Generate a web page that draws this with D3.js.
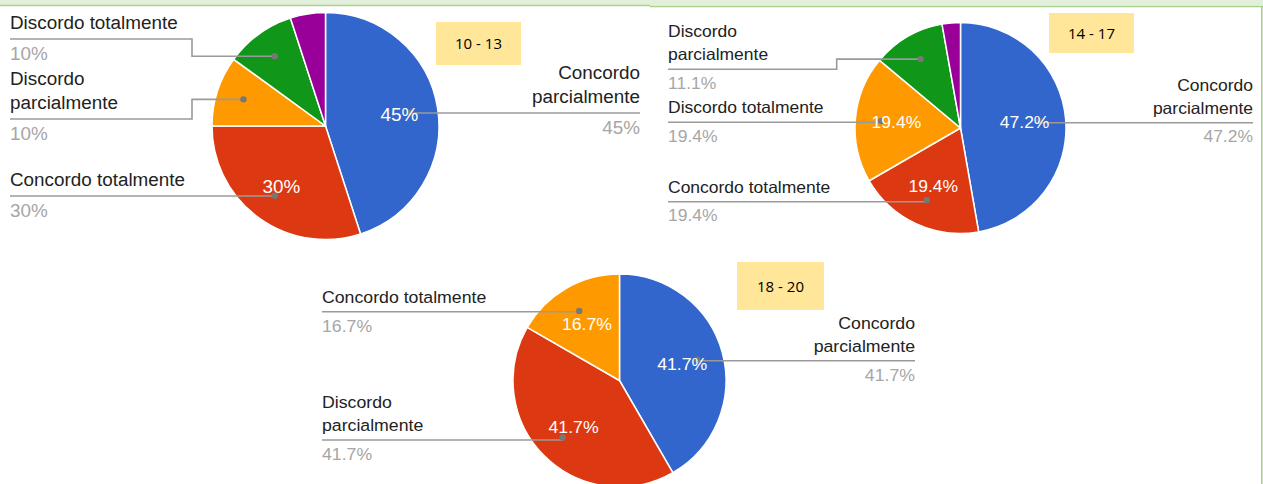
<!DOCTYPE html>
<html>
<head>
<meta charset="utf-8">
<script src="https://cdn.jsdelivr.net/npm/d3@7"></script>
<style>
  html, body { margin: 0; padding: 0; background: #ffffff; }
  svg { display: block; }
</style>
</head>
<body>
<svg id="chart" width="1263" height="484"></svg>
<script>
// ---- data -------------------------------------------------------------
const groups = ["10 - 13", "14 - 17", "18 - 20"];

const categories1 = ["Concordo parcialmente", "Concordo totalmente", "Discordo parcialmente", "Discordo totalmente", "Não concordo nem discordo"];
const values1 = [45, 30, 10, 10, 5];

const categories2 = ["Concordo parcialmente", "Concordo totalmente", "Discordo totalmente", "Discordo parcialmente", "Não concordo nem discordo"];
const values2 = [47.2, 19.4, 19.4, 11.1, 2.8];

const categories3 = ["Concordo parcialmente", "Discordo parcialmente", "Concordo totalmente"];
const values3 = [41.7, 41.7, 16.7];

const sliceColors = ["#3366cc", "#dc3912", "#ff9900", "#109618", "#990099"];

// ---- layout -------------------------------------------------------------
const layouts = [
  { cx: 325.5, cy: 126, r: 113.5, fs: 17.8, sx: 1.06, leftX: 10, rightX: 640,
    nameDy: -10, lineGap: 24, pctDy: 21, innerK: 0.66, dotK: 0.76,
    box: { x: 436, y: 22, w: 85, h: 43 },
    leaders: { "Concordo parcialmente": { side: "right", y: 113 },
               "Concordo totalmente":   { side: "left",  y: 196 },
               "Discordo parcialmente": { side: "left",  y: 119, step: 192 },
               "Discordo totalmente":   { side: "left",  y: 39,  step: 192 } } },
  { cx: 960.5, cy: 128, r: 105.5, fs: 16.5, sx: 1.06, leftX: 668, rightX: 1253,
    nameDy: -9, lineGap: 23, pctDy: 19.5, innerK: 0.61, dotK: 0.755,
    box: { x: 1049, y: 13, w: 85, h: 40 },
    leaders: { "Concordo parcialmente": { side: "right", y: 122.7 },
               "Concordo totalmente":   { side: "left",  y: 201.7 },
               "Discordo totalmente":   { side: "left",  y: 122.3 },
               "Discordo parcialmente": { side: "left",  y: 69.3, step: 836.7 } } },
  { cx: 619.5, cy: 380.5, r: 106.5, fs: 17.2, sx: 1.03, leftX: 322, rightX: 915,
    nameDy: -9, lineGap: 23, pctDy: 20, innerK: 0.61, dotK: 0.755,
    box: { x: 737, y: 262, w: 87, h: 48 },
    leaders: { "Concordo parcialmente": { side: "right", y: 360.7 },
               "Discordo parcialmente": { side: "left",  y: 440 },
               "Concordo totalmente":   { side: "left",  y: 311.7 } } }
];

const pies = [
  { cats: categories1, vals: values1 },
  { cats: categories2, vals: values2 },
  { cats: categories3, vals: values3 }
];

const svg = d3.select("#chart");
const fontFamily = "'Liberation Sans', Arial, sans-serif";
const fmtPct = v => (Number.isInteger(v) ? v : v.toFixed(1)) + "%";

// sheet frame: pale green strip with a thin green rule, and the right edge
svg.append("rect").attr("x", 0).attr("y", 0).attr("width", 1263).attr("height", 5.5).attr("fill", "#e2efda");
svg.append("line").attr("x1", 0).attr("x2", 650).attr("y1", 5.5).attr("y2", 5.5)
  .attr("stroke", "#a9d18e").attr("stroke-width", 1.6);
svg.append("line").attr("x1", 650).attr("x2", 1263).attr("y1", 6.5).attr("y2", 6.5)
  .attr("stroke", "#a9d18e").attr("stroke-width", 1.6);
svg.append("line").attr("x1", 1261.8).attr("x2", 1261.8).attr("y1", 6).attr("y2", 484)
  .attr("stroke", "#a9d18e").attr("stroke-width", 1.6);

function scaledText(g, x, y, sx, str, opts) {
  return g.append("text")
    .attr("transform", `translate(${x},${y}) scale(${sx},1)`)
    .attr("text-anchor", opts.anchor || "start")
    .attr("font-family", fontFamily)
    .attr("font-size", opts.fs)
    .attr("fill", opts.fill)
    .text(str);
}

pies.forEach((p, i) => {
  const L = layouts[i];
  const g = svg.append("g");
  const color = d3.scaleOrdinal().domain(p.cats).range(sliceColors);
  const data = p.cats.map((c, k) => ({ name: c, value: p.vals[k] }));

  const pie = d3.pie().value(d => d.value).sort(null);
  const arcs = pie(data);
  const arc = d3.arc().innerRadius(0).outerRadius(L.r);
  const innerArc = d3.arc().innerRadius(L.r * L.innerK).outerRadius(L.r * L.innerK);
  const dotArc = d3.arc().innerRadius(L.r * L.dotK).outerRadius(L.r * L.dotK);

  const pg = g.append("g").attr("transform", `translate(${L.cx},${L.cy})`);
  pg.selectAll("path.slice").data(arcs).join("path")
    .attr("class", "slice")
    .attr("d", arc)
    .attr("fill", d => color(d.data.name))
    .attr("stroke", "#ffffff")
    .attr("stroke-width", 1.5)
    .attr("stroke-linejoin", "round");

  // leader lines, dots and side labels
  arcs.forEach(a => {
    const ld = L.leaders[a.data.name];
    if (!ld) return;
    const [dx, dy] = dotArc.centroid(a);
    const dotX = L.cx + dx, dotY = L.cy + dy;
    const endX = ld.side === "left" ? L.leftX : L.rightX;
    const stepX = ld.step !== undefined ? ld.step : dotX;
    const path = `M${endX},${ld.y}H${stepX}V${dotY}H${dotX}`;
    g.append("path").attr("d", path).attr("fill", "none")
      .attr("stroke", "#9a9a9a").attr("stroke-width", 1.6);
    g.append("circle").attr("cx", dotX).attr("cy", dotY).attr("r", 3.2).attr("fill", "#777777");

    const anchor = ld.side === "left" ? "start" : "end";
    const name = a.data.name;
    let lines = [name];
    if (name.length > 20) {
      const cut = name.lastIndexOf(" ");
      lines = [name.slice(0, cut), name.slice(cut + 1)];
    }
    lines.forEach((t, k) => {
      const yy = ld.y + L.nameDy - (lines.length - 1 - k) * L.lineGap;
      scaledText(g, endX, yy, L.sx, t, { anchor, fs: L.fs, fill: "#222222" });
    });
    scaledText(g, endX, ld.y + L.pctDy, L.sx, fmtPct(a.data.value), { anchor, fs: L.fs, fill: "#a6a6a6" });
  });

  // percentage labels inside larger slices
  arcs.filter(a => a.data.value > 15).forEach(a => {
    const [x, y] = innerArc.centroid(a);
    scaledText(g, L.cx + x, L.cy + y + L.fs * 0.36, L.sx, fmtPct(a.data.value),
      { anchor: "middle", fs: L.fs, fill: "#ffffff" });
  });

  // age group tag
  const b = L.box;
  g.append("rect").attr("x", b.x).attr("y", b.y).attr("width", b.w).attr("height", b.h).attr("fill", "#ffe699");
  g.append("text").attr("x", b.x + b.w / 2).attr("y", b.y + b.h / 2 + 5.5)
    .attr("text-anchor", "middle")
    .attr("font-family", "'Open Sans', 'Noto Sans', sans-serif")
    .attr("font-size", 15).attr("fill", "#000000")
    .text(groups[i]);
});
</script>
</body>
</html>
